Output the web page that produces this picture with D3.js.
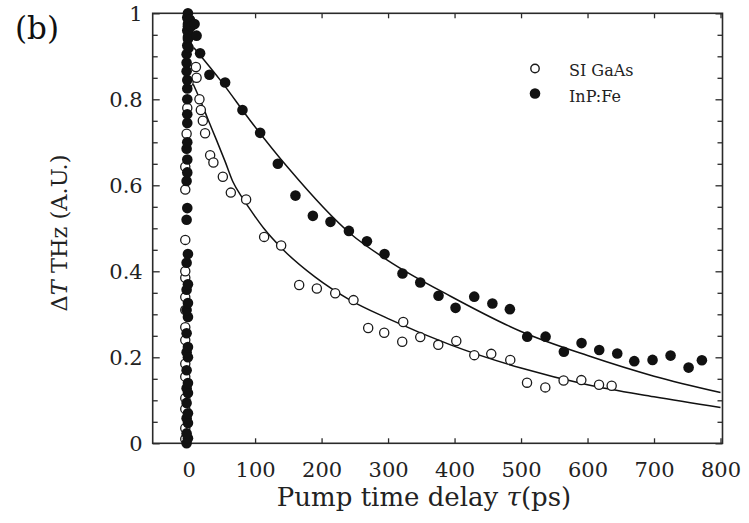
<!DOCTYPE html>
<html>
<head>
<meta charset="utf-8">
<script src="https://cdn.jsdelivr.net/npm/d3@7/dist/d3.min.js"></script>
<style>
  html, body { margin: 0; padding: 0; background: #fff; }
  svg { display: block; }
  .tick text { font-family: "DejaVu Serif", serif; fill: #222; }
</style>
</head>
<body>
<svg id="chart" width="749" height="523"></svg>
<script>
// THz transient: SI GaAs (open) and InP:Fe (filled), delay in ps
const gaasT = [-5, -5, -5, -5, -5, -5, -5, -5, -5, -5, -5, -5, -5, -5, -5, -3, -2, 0,
  11, 12, 16.3, 18.4, 21.4, 24.8, 32.4, 37.3, 51.5, 63.5, 86.5, 113.6, 139.2, 166.3, 192.9,
  220.5, 248, 270.1, 294.2, 321.3, 322.8, 348.4, 375.5, 402.6, 429.7, 455.2, 483.8, 509,
  536.5, 564, 590.7, 617.3, 636.3];
const gaasV = [0.01, 0.035, 0.08, 0.105, 0.155, 0.185, 0.24, 0.27, 0.31, 0.34, 0.385, 0.40,
  0.473, 0.59, 0.643, 0.72, 0.78, 0.84,
  0.875, 0.85, 0.800, 0.775, 0.750, 0.721, 0.670, 0.653, 0.620, 0.583, 0.567, 0.480, 0.460,
  0.368, 0.360, 0.349, 0.333, 0.268, 0.257, 0.236, 0.282, 0.247, 0.229, 0.238, 0.205, 0.208,
  0.194, 0.141, 0.130, 0.146, 0.147, 0.136, 0.134];

const inpT = [-3, -1, -3, -1, -3, -1, -3, -1, -3, -1, -3, -1, -3, -1, -3, -1, -3, -1, -3,
  -1, -3, -1, -3, -2, -3, -2, -2, -3, -2, -2, -2, -2, -2, -2, -3, -3, -3,
  -2, -1, -2, -1, -2, -1, 0, -1, 0, -1, 0, 2, 4, 12, 9,
  17.3, 31.3, 54.9, 81, 107.6, 134.2, 160.7, 186.9, 213.4, 241.1, 268.2, 294.7, 321.7,
  348.4, 375.9, 401.5, 429.6, 456.9, 483.2, 509.3, 536.9, 564.4, 591, 617.6, 644.7, 670.3,
  697.8, 724.9, 752, 772];
const inpV = [0.0, 0.012, 0.023, 0.047, 0.058, 0.07, 0.094, 0.117, 0.128, 0.14, 0.17, 0.2,
  0.212, 0.224, 0.256, 0.294, 0.31, 0.326, 0.357, 0.37, 0.42, 0.44, 0.52, 0.547, 0.61, 0.63,
  0.66, 0.685, 0.70, 0.745, 0.765, 0.80, 0.825, 0.845, 0.865, 0.885, 0.905,
  0.925, 0.945, 0.96, 0.975, 0.99, 1.0, 0.985, 0.97, 0.955, 0.94, 0.92, 0.985, 0.97, 0.948, 0.975,
  0.907, 0.857, 0.839, 0.775, 0.722, 0.650, 0.576, 0.529, 0.515, 0.494, 0.470, 0.440,
  0.395, 0.374, 0.343, 0.315, 0.341, 0.325, 0.312, 0.248, 0.248, 0.213, 0.233, 0.217,
  0.209, 0.191, 0.194, 0.204, 0.176, 0.193];

// Fitted decay curves
const gaasFitT = [7, 17, 30, 42, 55, 67, 80, 92, 113, 143, 190, 243, 300, 394, 500, 600, 700, 800];
const gaasFitV = [0.835, 0.80, 0.75, 0.705, 0.655, 0.607, 0.573, 0.545, 0.50, 0.449, 0.387,
  0.333, 0.29, 0.229, 0.175, 0.136, 0.108, 0.083];
const inpFitT = [8, 50, 92, 150, 243, 300, 394, 500, 600, 700, 800];
const inpFitV = [0.92, 0.84, 0.752, 0.64, 0.488, 0.425, 0.342, 0.26, 0.204, 0.156, 0.118];

const xTicks = [0, 100, 200, 300, 400, 500, 600, 700, 800];
const xTickLabels = ["0", "100", "200", "300", "400", "500", "600", "700", "800"];
const yTicks = [0, 0.2, 0.4, 0.6, 0.8, 1];
const yTickLabels = ["0", "0.2", "0.4", "0.6", "0.8", "1"];
const yMinorTicks = [0.05, 0.1, 0.15, 0.25, 0.3, 0.35, 0.45, 0.5, 0.55, 0.65, 0.7, 0.75, 0.85, 0.9, 0.95];

const seriesNames = ["SI GaAs", "InP:Fe"];

// Layout
const plotLeft = 152.7, plotRight = 722.5, plotTop = 13.3, plotBottom = 443.3;
const ink = "#2a2a2a";

const svg = d3.select("#chart");

const x = d3.scaleLinear().domain([-54, 803]).range([plotLeft, plotRight]);
const y = d3.scaleLinear().domain([0, 1]).range([plotBottom, plotTop]);

// Fit lines
const line = d3.line().x(d => x(d[0])).y(d => y(d[1])).curve(d3.curveMonotoneX);
svg.append("path")
  .attr("d", line(gaasFitT.map((t, i) => [t, gaasFitV[i]])))
  .attr("fill", "none").attr("stroke", "#111").attr("stroke-width", 1.5);
svg.append("path")
  .attr("d", line(inpFitT.map((t, i) => [t, inpFitV[i]])))
  .attr("fill", "none").attr("stroke", "#111").attr("stroke-width", 1.5);

// Axes (ticks point into the frame)
function styleAxis(g) {
  g.select(".domain").remove();
  g.selectAll(".tick line").attr("stroke", ink).attr("stroke-width", 1.3);
}
const fmtX = d => xTickLabels[xTicks.indexOf(d)];
const fmtY = d => yTickLabels[yTicks.indexOf(d)];

svg.append("g").attr("transform", `translate(0,${plotBottom})`)
  .call(d3.axisBottom(x).tickValues(xTicks).tickFormat(fmtX).tickSize(-5).tickPadding(19))
  .call(styleAxis)
  .selectAll("text").attr("font-size", 21);
svg.append("g").attr("transform", `translate(0,${plotTop})`)
  .call(d3.axisTop(x).tickValues(xTicks).tickFormat("").tickSize(-5))
  .call(styleAxis);
svg.append("g").attr("transform", `translate(${plotLeft},0)`)
  .call(d3.axisLeft(y).tickValues(yTicks).tickFormat(fmtY).tickSize(-7).tickPadding(10))
  .call(styleAxis)
  .selectAll("text").attr("font-size", 21);
svg.append("g").attr("transform", `translate(${plotLeft},0)`)
  .call(d3.axisLeft(y).tickValues(yMinorTicks).tickFormat("").tickSize(-5))
  .call(styleAxis);
svg.append("g").attr("transform", `translate(${plotRight},0)`)
  .call(d3.axisRight(y).tickValues(yTicks).tickFormat("").tickSize(-7))
  .call(styleAxis);
svg.append("g").attr("transform", `translate(${plotRight},0)`)
  .call(d3.axisRight(y).tickValues(yMinorTicks).tickFormat("").tickSize(-5))
  .call(styleAxis);

// Frame
svg.append("rect")
  .attr("x", plotLeft).attr("y", plotTop)
  .attr("width", plotRight - plotLeft).attr("height", plotBottom - plotTop)
  .attr("fill", "none").attr("stroke", ink).attr("stroke-width", 1.6);

// Markers: open circles underneath, filled on top
svg.append("g").selectAll("circle")
  .data(gaasT.map((t, i) => [t, gaasV[i]]))
  .join("circle")
  .attr("cx", d => x(d[0])).attr("cy", d => y(d[1])).attr("r", 4.6)
  .attr("fill", "#fff").attr("stroke", "#1a1a1a").attr("stroke-width", 1.3);
svg.append("g").selectAll("circle")
  .data(inpT.map((t, i) => [t, inpV[i]]))
  .join("circle")
  .attr("cx", d => x(d[0])).attr("cy", d => y(d[1])).attr("r", 5.3)
  .attr("fill", "#111");

// Legend
const legend = svg.append("g").attr("font-family", "DejaVu Serif, serif").attr("font-size", 16).attr("fill", "#222");
legend.append("circle").attr("cx", 535).attr("cy", 68.5).attr("r", 4.2)
  .attr("fill", "#fff").attr("stroke", "#1a1a1a").attr("stroke-width", 1.4);
legend.append("circle").attr("cx", 535).attr("cy", 93.5).attr("r", 5.3).attr("fill", "#111");
legend.append("text").attr("x", 569).attr("y", 76).text(seriesNames[0]);
legend.append("text").attr("x", 569).attr("y", 102).text(seriesNames[1]);

// Axis titles
const xTitle = svg.append("text")
  .attr("x", 424).attr("y", 506)
  .attr("text-anchor", "middle")
  .attr("font-family", "DejaVu Serif, serif").attr("font-size", 26).attr("fill", "#222");
xTitle.append("tspan").text("Pump time delay ");
xTitle.append("tspan").attr("font-style", "italic").text("τ");
xTitle.append("tspan").text("(ps)");

const yTitle = svg.append("text")
  .attr("transform", `translate(67,233) rotate(-90)`)
  .attr("text-anchor", "middle")
  .attr("font-family", "DejaVu Serif, serif").attr("font-size", 22.5).attr("fill", "#222");
yTitle.append("tspan").text("Δ");
yTitle.append("tspan").attr("font-style", "italic").text("T");
yTitle.append("tspan").text(" THz (A.U.)");

// Panel label
svg.append("text")
  .attr("x", 15).attr("y", 38.5)
  .attr("font-family", "DejaVu Serif, serif").attr("font-size", 31).attr("fill", "#111")
  .text("(b)");
</script>
</body>
</html>
